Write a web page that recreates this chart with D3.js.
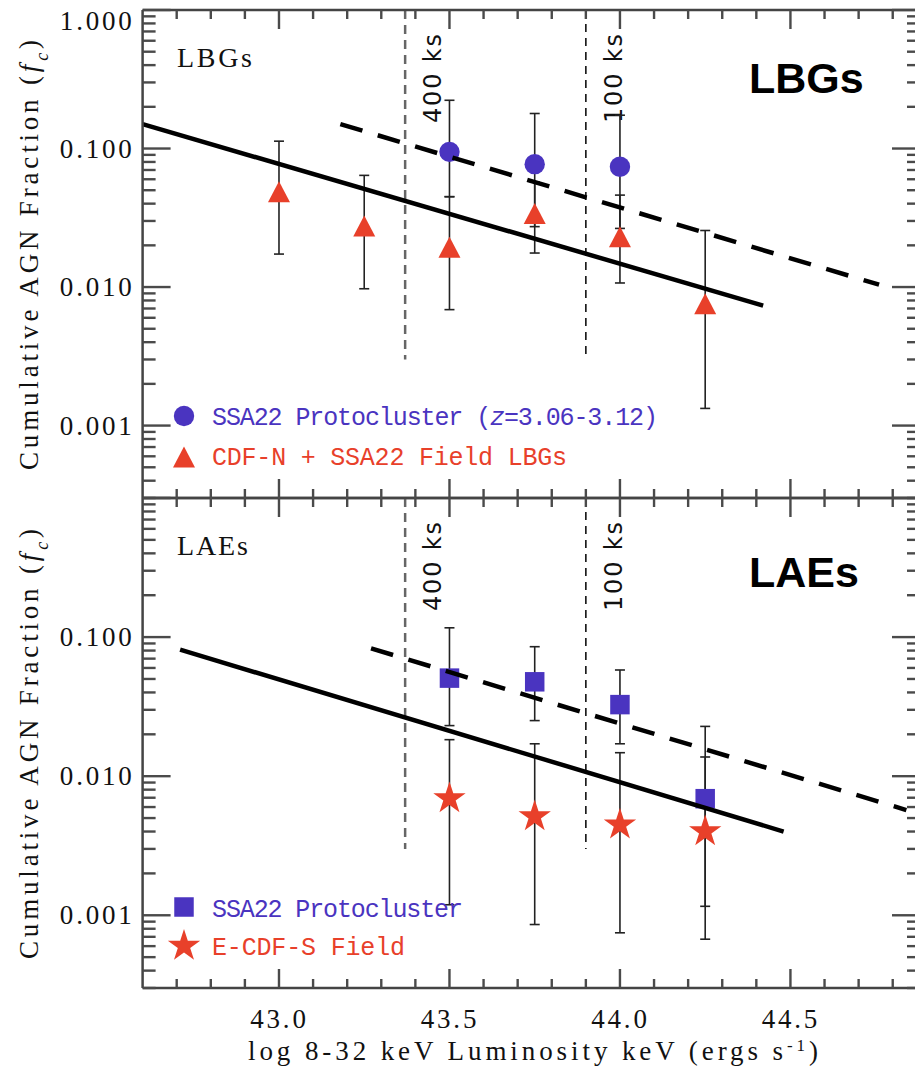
<!DOCTYPE html>
<meta charset="utf-8">
<style>
  body { margin: 0; background: #fff; }
  .frame { stroke: #444; stroke-width: 2.5; }
  .errbar { stroke: #222; stroke-width: 1.6; fill: none; }
  .fit { fill: none; stroke: #000; stroke-width: 4.5; }
  .fit.dashed { stroke-dasharray: 23 16; }
  .depth { fill: none; }
  .serif { font-family: "Liberation Serif", serif; fill: #111; }
  .mono { font-family: "Liberation Mono", monospace; font-size: 25px; }
  .depthlabel { font-family: "DejaVu Sans", sans-serif; font-size: 24px; fill: #111; }
  .big { font-family: "Liberation Sans", Arial, sans-serif; font-weight: bold; font-size: 43px; fill: #000; }
</style>
<body></body>
<script src="https://d3js.org/d3.v7.min.js"></script>
<script>
// axis ranges and tick labels
var xDomain = [42.6, 44.88];
var yDomain = [0.0003, 1.0];
var xTickValues = [43.0, 43.5, 44.0, 44.5];
var xTickLabels = ["43.0", "43.5", "44.0", "44.5"];
var yTickValues = [1.0, 0.1, 0.01, 0.001];
var yTickLabels = ["1.000", "0.100", "0.010", "0.001"];

// exposure depth markers
var depthX = [43.37, 43.90];
var depthLabels = ["400 ks", "100 ks"];
var depthFloor = 0.003;

// LBG panel: field (CDF-N + SSA22) triangles
var lbgFieldX  = [43.0, 43.25, 43.5, 43.75, 44.0, 44.25];
var lbgFieldY  = [0.0488, 0.0276, 0.0194, 0.0339, 0.0231, 0.00759];
var lbgFieldLo = [0.0173, 0.00972, 0.00687, 0.0176, 0.0107, 0.00133];
var lbgFieldHi = [0.113, 0.064, 0.0449, 0.0575, 0.0461, 0.0256];

// LBG panel: SSA22 protocluster circles
var lbgProtoX  = [43.5, 43.75, 44.0];
var lbgProtoY  = [0.0946, 0.0771, 0.0738];
var lbgProtoLo = [0.0449, 0.0273, 0.0265];
var lbgProtoHi = [0.223, 0.179, 0.174];

// LAE panel: SSA22 protocluster squares
var laeProtoX  = [43.5, 43.75, 44.0, 44.25];
var laeProtoY  = [0.0507, 0.0477, 0.0327, 0.00689];
var laeProtoLo = [0.0231, 0.0251, 0.0171, 0.00116];
var laeProtoHi = [0.1166, 0.0853, 0.058, 0.0228];

// LAE panel: E-CDF-S field stars
var laeFieldX  = [43.5, 43.75, 44.0, 44.25];
var laeFieldY  = [0.00692, 0.00513, 0.00447, 0.0040];
var laeFieldLo = [0.00119, 0.000858, 0.000748, 0.000673];
var laeFieldHi = [0.0183, 0.0171, 0.01475, 0.01374];

// power-law fits (end points)
var lbgFitX = [42.6, 44.42],  lbgFitY = [0.150, 0.00735];
var lbgProtoFitX = [43.18, 44.76], lbgProtoFitY = [0.150, 0.0104];
var laeFitX = [42.71, 44.48], laeFitY = [0.0812, 0.0040];
var laeProtoFitX = [43.27, 44.84], laeProtoFitY = [0.083, 0.00571];

var blue = "#4a34c0", red = "#e8402a";

var svg = d3.select("body").append("svg")
    .attr("width", 915)
    .attr("height", 1070);

var x = d3.scaleLinear().domain(xDomain).range([142.6, 920]);

function zip(xs, ys, lo, hi) {
    return xs.map(function (v, i) { return {x: v, y: ys[i], lo: lo ? lo[i] : null, hi: hi ? hi[i] : null}; });
}

function triangle(w, h) {
    return "M0," + (-h / 2) + "L" + (w / 2) + "," + (h / 2) + "L" + (-w / 2) + "," + (h / 2) + "Z";
}

var symbols = {
    circle: d3.symbol().type(d3.symbolCircle).size(327)(),
    square: d3.symbol().type(d3.symbolSquare).size(380)(),
    star: d3.symbol().type(d3.symbolStar).size(325)(),
    triangle: triangle(22, 21)
};

function isMajorLog(v) {
    var l = Math.log10(v);
    return Math.abs(l - Math.round(l)) < 1e-9;
}
function isMajorX(v) {
    return xTickValues.some(function (m) { return Math.abs(m - v) < 1e-6; });
}

function labelAxis(a) {
    a.select(".domain").remove();
    a.selectAll(".tick line").remove();
    a.attr("font-family", null).attr("font-size", null);
    a.selectAll(".tick text").attr("class", "serif").attr("fill", "#111")
        .style("font-size", "27px").style("letter-spacing", "2.8px");
}

function drawPanel(p) {
    var g = svg.append("g");
    var y = d3.scaleLog().domain(yDomain).range([p.bottom, p.top]);
    var x0 = x.range()[0], x1 = x.range()[1];
    p.y = y;

    // tick labels
    g.append("g").attr("transform", "translate(" + x0 + ",0)")
        .call(d3.axisLeft(y).tickValues(yTickValues).tickSize(0).tickPadding(8)
            .tickFormat(function (d, i) { return (p.skipTopLabel && i === 0) ? "" : yTickLabels[i]; }))
        .call(labelAxis)
        .call(function (a) {
            a.selectAll(".tick text").attr("y", function (d) { return y(d) - p.top < 10 ? 11 : 0; });
        });
    if (p.xLabels) {
        g.append("g").attr("transform", "translate(0," + p.bottom + ")")
            .call(d3.axisBottom(x).tickValues(xTickValues).tickSize(0).tickPadding(21)
                .tickFormat(function (d, i) { return xTickLabels[i]; }))
            .call(labelAxis);
    }

    // y title
    var ytt = g.append("text").attr("class", "serif")
        .attr("transform", "translate(38," + ((p.top + p.bottom) / 2 + 1) + ") rotate(-90)")
        .attr("text-anchor", "middle")
        .style("font-size", "27px")
        .attr("textLength", 430).attr("lengthAdjust", "spacing");
    ytt.append("tspan").text("Cumulative AGN Fraction (");
    ytt.append("tspan").style("font-style", "italic").text("f");
    ytt.append("tspan").attr("baseline-shift", "sub").style("font-size", "18px").style("font-style", "italic").text("c");
    ytt.append("tspan").text(")");

    // exposure depth lines and labels
    depthX.forEach(function (d, i) {
        g.append("line").attr("class", "depth")
            .attr("x1", x(d)).attr("x2", x(d))
            .attr("y1", y(yDomain[1])).attr("y2", y(depthFloor))
            .attr("stroke", i === 0 ? "#666" : "#111")
            .attr("stroke-width", i === 0 ? 2.5 : 1.6)
            .attr("stroke-dasharray", i === 0 ? "9 6" : "8 6");
        g.append("text").attr("class", "depthlabel")
            .attr("transform", "translate(" + (x(d) + 36) + "," + (p.top + 113) + ") rotate(-90)")
            .attr("textLength", 89).attr("lengthAdjust", "spacing")
            .text(depthLabels[i]);
    });

    // panel labels
    g.append("text").attr("class", "serif").attr("x", 177).attr("y", p.top + p.smallDy)
        .style("font-size", "28px").attr("textLength", p.smallW).attr("lengthAdjust", "spacing")
        .text(p.name);
    g.append("text").attr("class", "big").attr("x", 749).attr("y", p.top + p.bigDy)
        .text(p.name);

    // error bars and symbols
    p.series.forEach(function (s) {
        var eb = g.append("g").selectAll("g").data(s.data).join("g").attr("class", "errbar");
        eb.append("line").attr("x1", function (d) { return x(d.x); }).attr("x2", function (d) { return x(d.x); })
            .attr("y1", function (d) { return y(d.lo); }).attr("y2", function (d) { return y(d.hi); });
        eb.append("line").attr("x1", function (d) { return x(d.x) - 5; }).attr("x2", function (d) { return x(d.x) + 5; })
            .attr("y1", function (d) { return y(d.lo); }).attr("y2", function (d) { return y(d.lo); });
        eb.append("line").attr("x1", function (d) { return x(d.x) - 5; }).attr("x2", function (d) { return x(d.x) + 5; })
            .attr("y1", function (d) { return y(d.hi); }).attr("y2", function (d) { return y(d.hi); });
    });
    p.series.forEach(function (s) {
        g.append("g").selectAll("path").data(s.data).join("path")
            .attr("d", symbols[s.shape])
            .attr("fill", s.color)
            .attr("transform", function (d) { return "translate(" + x(d.x) + "," + y(d.y) + ")"; });
    });

    // fits
    var fitLine = d3.line().x(function (d) { return x(d.x); }).y(function (d) { return y(d.y); });
    p.fits.forEach(function (f) {
        g.append("path").datum(f.data)
            .attr("class", f.dashed ? "fit dashed" : "fit")
            .attr("d", fitLine);
    });

    // legend
    p.legend.forEach(function (l) {
        g.append("path").attr("d", symbols[l.shape]).attr("fill", l.color)
            .attr("transform", "translate(184," + l.symY + ")");
        var t = g.append("text").attr("class", "mono").attr("x", 212).attr("y", l.textY)
            .attr("fill", l.color).attr("textLength", l.w).attr("lengthAdjust", "spacing");
        l.parts.forEach(function (part) {
            t.append("tspan").style("font-style", part.italic ? "italic" : null).text(part.t);
        });
    });

    // frame
    g.append("line").attr("class", "frame").attr("x1", x0).attr("x2", x1).attr("y1", p.top).attr("y2", p.top);
    g.append("line").attr("class", "frame").attr("x1", x0).attr("x2", x1).attr("y1", p.bottom).attr("y2", p.bottom);
    g.append("line").attr("class", "frame").attr("x1", x0).attr("x2", x0).attr("y1", p.top).attr("y2", p.bottom);
    g.append("line").attr("class", "frame").attr("x1", x1).attr("x2", x1).attr("y1", p.top).attr("y2", p.bottom);
}

// tick marks, pointing into the plot on all four sides
function drawTicks(p) {
    var y = p.y;
    var x0 = x.range()[0], x1 = x.range()[1];
    var tg = svg.append("g");
    function tick(xa, xb, ya, yb) {
        tg.append("line")
            .attr("x1", xa).attr("x2", xb).attr("y1", ya).attr("y2", yb)
            .style("stroke", "#4a4a4a").style("stroke-width", "2.4px");
    }
    var yTicks = y.ticks();
    for (var i = 0; i < yTicks.length; i++) {
        var yv = yTicks[i];
        var ly = isMajorLog(yv) ? 28 : 13;
        tick(x0, x0 + ly, y(yv), y(yv));
        tick(x1, x1 - ly, y(yv), y(yv));
    }
    var xTicks = x.ticks(23);
    for (var j = 0; j < xTicks.length; j++) {
        var xv = xTicks[j];
        if (xv <= xDomain[0] + 1e-6) continue;
        var lx = isMajorX(xv) ? 19 : 9;
        tick(x(xv), x(xv), p.top, p.top + lx);
        tick(x(xv), x(xv), p.bottom, p.bottom - lx);
    }
}

var lbgPanel = {
    name: "LBGs", top: 10, bottom: 498, skipTopLabel: false, xLabels: false,
    smallDy: 57, smallW: 75, bigDy: 83,
    series: [
        {shape: "triangle", color: red, data: zip(lbgFieldX, lbgFieldY, lbgFieldLo, lbgFieldHi)},
        {shape: "circle", color: blue, data: zip(lbgProtoX, lbgProtoY, lbgProtoLo, lbgProtoHi)}
    ],
    fits: [
        {dashed: false, data: zip(lbgFitX, lbgFitY)},
        {dashed: true, data: zip(lbgProtoFitX, lbgProtoFitY)}
    ],
    legend: [
        {shape: "circle", color: blue, symY: 416, textY: 425, w: 446,
            parts: [{t: "SSA22 Protocluster ("}, {t: "z", italic: true}, {t: "=3.06-3.12)"}]},
        {shape: "triangle", color: red, symY: 457, textY: 465, w: 355,
            parts: [{t: "CDF-N + SSA22 Field LBGs"}]}
    ]
};

var laePanel = {
    name: "LAEs", top: 498, bottom: 988, skipTopLabel: true, xLabels: true,
    smallDy: 57, smallW: 71, bigDy: 89,
    series: [
        {shape: "star", color: red, data: zip(laeFieldX, laeFieldY, laeFieldLo, laeFieldHi)},
        {shape: "square", color: blue, data: zip(laeProtoX, laeProtoY, laeProtoLo, laeProtoHi)}
    ],
    fits: [
        {dashed: false, data: zip(laeFitX, laeFitY)},
        {dashed: true, data: zip(laeProtoFitX, laeProtoFitY)}
    ],
    legend: [
        {shape: "square", color: blue, symY: 907, textY: 917, w: 251,
            parts: [{t: "SSA22 Protocluster"}]},
        {shape: "star", color: red, symY: 946, textY: 955, w: 193,
            parts: [{t: "E-CDF-S Field"}]}
    ]
};

drawPanel(lbgPanel);
drawPanel(laePanel);

// x title
var xTitle = svg.append("text").attr("class", "serif")
    .attr("x", 248).attr("y", 1060)
    .style("font-size", "27px")
    .attr("textLength", 570).attr("lengthAdjust", "spacing");
xTitle.append("tspan").text("log 8-32 keV Luminosity keV (ergs s");
xTitle.append("tspan").attr("baseline-shift", "super").style("font-size", "17px").text("-1");
xTitle.append("tspan").text(")");

drawTicks(lbgPanel);
drawTicks(laePanel);
</script>
